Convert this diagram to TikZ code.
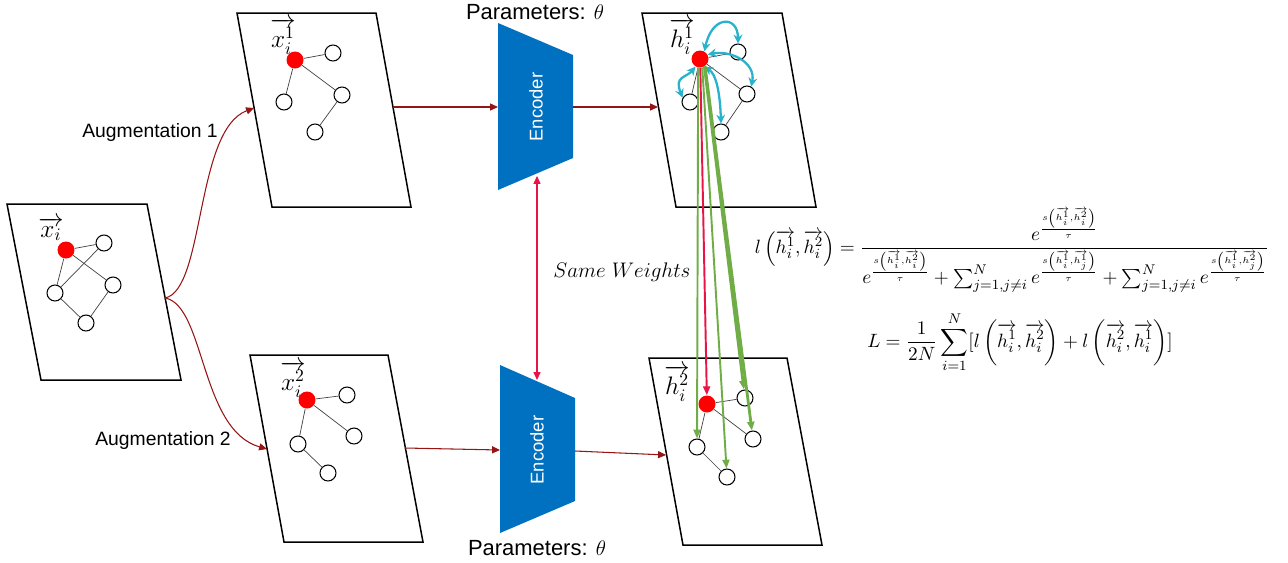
\documentclass[tikz,border=0pt]{standalone}
\usepackage{fontspec}
\setmainfont{Liberation Sans}
\usepackage{amsmath}
\usetikzlibrary{arrows.meta}

\definecolor{flowred}{RGB}{150,20,20}
\definecolor{weightred}{RGB}{232,20,70}
\definecolor{encblue}{RGB}{0,112,192}
\definecolor{attcyan}{RGB}{40,178,204}
\definecolor{posgreen}{RGB}{112,173,71}

\tikzset{
  frame/.style={draw, line width=0.85pt},
  hub/.style={circle, fill=red, minimum size=0.34cm, inner sep=0pt},
  vtx/.style={circle, draw, line width=0.6pt, fill=white, minimum size=0.32cm, inner sep=0pt},
  link/.style={draw=black!75, line width=0.4pt},
  flow/.style={draw=flowred, line width=0.6pt, -{Triangle[length=4.5pt,width=4pt]}},
  att/.style={draw=attcyan, line width=1.3pt, {Stealth[length=5pt,width=5pt]}-{Stealth[length=5pt,width=5pt]}},
  pairarrow/.style={draw=posgreen, line width=1.1pt, -{Triangle[length=5pt,width=4pt]}},
  vlabel/.style={font=\fontsize{14}{16}\selectfont},
  caption/.style={font=\fontsize{11}{13}\selectfont},
  param/.style={font=\fontsize{12.5}{15}\selectfont},
  formula/.style={font=\fontsize{11}{13}\selectfont, inner sep=1pt}
}

\begin{document}
\begin{tikzpicture}[x=0.02cm,y=-0.02cm]
\useasboundingbox (0,0) rectangle (1288,562);

% Input graph
\draw[frame]
(7,204)
--
(147,204)
--
(181,380)
--
(41,380)
--
cycle;
\coordinate (src-out) at (165,298);

\node[hub] (s-c) at (66,250) {};
\node[vtx] (s-n1) at (104,243) {};
\node[vtx] (s-n2) at (113,285) {};
\node[vtx] (s-n3) at (55,293) {};
\node[vtx] (s-n4) at (86,323) {};
\draw[link] (s-c) -- (s-n1);
\draw[link] (s-c) -- (s-n2);
\draw[link] (s-c) -- (s-n3);
\draw[link] (s-n3) -- (s-n1);
\draw[link] (s-n3) -- (s-n4);
\draw[link] (s-n4) -- (s-n2);
\node[vlabel] (s-lbl) at (51,229) {$\overrightarrow{x_i}$};

% Augmentation 1
\draw[frame]
(237,13)
--
(376,13)
--
(411,207)
--
(272,207)
--
cycle;
\coordinate (a-in) at (254,108);
\coordinate (a-out) at (393,107);

\begin{scope}[shift={(295,60)}]
\node[hub] (a-c) at (0,0) {};
\node[vtx] (a-n1) at (38,-7) {};
\node[vtx] (a-n2) at (47,35) {};
\node[vtx] (a-n3) at (-11,42) {};
\node[vtx] (a-n4) at (20,72) {};
\draw[link] (a-c) -- (a-n1);
\draw[link] (a-c) -- (a-n2);
\draw[link] (a-c) -- (a-n3);
\draw[link] (a-n2) -- (a-n4);
\node[vlabel] (a-lbl) at (-12,-24) {$\overrightarrow{x_i^1}$};
\end{scope}

% Augmentation 2
\draw[frame]
(250,355)
--
(388,355)
--
(423,542)
--
(284,542)
--
cycle;
\coordinate (b-in) at (267,449);
\coordinate (b-out) at (405,448);

\begin{scope}[shift={(307,400)}]
\node[hub] (b-c) at (0,0) {};
\node[vtx] (b-n1) at (40,-5) {};
\node[vtx] (b-n2) at (47,36) {};
\node[vtx] (b-n3) at (-9,44) {};
\node[vtx] (b-n4) at (21,73) {};
\draw[link] (b-c) -- (b-n1);
\draw[link] (b-c) -- (b-n2);
\draw[link] (b-c) -- (b-n3);
\draw[link] (b-n3) -- (b-n4);
\node[vlabel] (b-lbl) at (-14,-21) {$\overrightarrow{x_i^2}$};
\end{scope}

% Encoders
\fill[encblue]
(498,23)
--
(573,55)
--
(573,158)
--
(498,190)
--
cycle;
\node[rotate=90, white, font=\fontsize{10.5}{12}\selectfont] (enc1) at (536,107) {Encoder};
\node[param] (par1) at (535,12) {Parameters: $\theta$};
\coordinate (enc1-in) at (498,107);
\coordinate (enc1-out) at (573,107);
\coordinate (enc1-low) at (537,176);

\fill[encblue]
(500,365)
--
(575,398)
--
(575,501)
--
(500,533)
--
cycle;
\node[rotate=90, white, font=\fontsize{10.5}{12}\selectfont] (enc2) at (537,450) {Encoder};
\node[param] (par2) at (537,548) {Parameters: $\theta$};
\coordinate (enc2-in) at (500,450);
\coordinate (enc2-out) at (575,451);
\coordinate (enc2-up) at (537,380);

% Embeddings 1
\draw[frame]
(642,13)
--
(782,13)
--
(816,207)
--
(676,207)
--
cycle;
\coordinate (c-in) at (658,107);

\begin{scope}[shift={(700,59)}]
\node[hub] (c-c) at (0,0) {};
\node[vtx] (c-n1) at (38,-7) {};
\node[vtx] (c-n2) at (47,35) {};
\node[vtx] (c-n3) at (-10,43) {};
\node[vtx] (c-n4) at (21,73) {};
\draw[link] (c-c) -- (c-n1);
\draw[link] (c-c) -- (c-n2);
\draw[link] (c-c) -- (c-n3);
\draw[link] (c-n2) -- (c-n4);
\node[vlabel] (c-lbl) at (-18,-23) {$\overrightarrow{h_i^1}$};
\end{scope}

% Embeddings 2
\draw[frame]
(649,358)
--
(787,358)
--
(822,545)
--
(683,545)
--
cycle;
\coordinate (d-in) at (666,455);

\begin{scope}[shift={(707,404)}]
\node[hub] (d-c) at (0,0) {};
\node[vtx] (d-n1) at (38,-6) {};
\node[vtx] (d-n2) at (46,35) {};
\node[vtx] (d-n3) at (-10,43) {};
\node[vtx] (d-n4) at (20,73) {};
\draw[link] (d-c) -- (d-n1);
\draw[link] (d-c) -- (d-n2);
\draw[link] (d-c) -- (d-n3);
\draw[link] (d-n3) -- (d-n4);
\node[vlabel] (d-lbl) at (-30,-21) {$\overrightarrow{h_i^2}$};
\end{scope}

% Flow
\draw[flow] (src-out) .. controls (205,290) and (195,130) .. (a-in);
\draw[flow] (src-out) .. controls (205,305) and (200,430) .. (b-in);
\draw[flow] (a-out) -- (enc1-in);
\draw[flow] (b-out) -- (enc2-in);
\draw[flow] (enc1-out) -- (c-in);
\draw[flow] (enc2-out) -- (d-in);

\node[caption] (aug1) at (150,132) {Augmentation 1};
\node[caption] (aug2) at (163,440) {Augmentation 2};

% Same weights
\draw[draw=weightred, line width=0.6pt, {Triangle[length=4.5pt,width=4pt]}-{Triangle[length=4.5pt,width=4pt]}] (enc1-low) -- (enc2-up);
\node[font=\fontsize{12.5}{15}\selectfont] (same) at (622,272) {$Same\ Weights$};

% Neighbours of the anchor
\draw[att] (c-c.60) .. controls (712,15) and (738,15) .. (c-n1.north);
\draw[att] (c-c.30) .. controls (730,50) and (756,62) .. (c-n2.60);
\draw[att] (c-c.240) .. controls (686,78) and (674,76) .. (c-n3.150);
\draw[att] (c-c.300) .. controls (716,74) and (720,92) .. (c-n4.north);

% Positives and negatives
\draw[pairarrow] (c-c.258) -- (d-n3);
\draw[draw=weightred, line width=1.1pt, -{Triangle[length=5pt,width=4pt]}] (c-c.272) -- (d-c);
\draw[pairarrow] (c-c.285) -- (d-n4);
\draw[pairarrow, line width=1.6pt] (c-c.300) -- (d-n1);
\draw[pairarrow, line width=1.6pt] (c-c.305) -- (d-n2);

% Loss
\node[formula] (loss) at (1012,250)
{$l\left(\overrightarrow{h_i^1},\overrightarrow{h_i^2}\right)=\dfrac{e^{\frac{s\left(\overrightarrow{h_i^1},\overrightarrow{h_i^2}\right)}{\tau}}}{e^{\frac{s\left(\overrightarrow{h_i^1},\overrightarrow{h_i^2}\right)}{\tau}}+\sum\nolimits_{j=1,j\neq i}^{N}e^{\frac{s\left(\overrightarrow{h_i^1},\overrightarrow{h_j^1}\right)}{\tau}}+\sum\nolimits_{j=1,j\neq i}^{N}e^{\frac{s\left(\overrightarrow{h_i^1},\overrightarrow{h_j^2}\right)}{\tau}}}$};
\node[formula] (total) at (1020,342)
{$\displaystyle L=\frac{1}{2N}\sum_{i=1}^{N}[l\left(\overrightarrow{h_i^1},\overrightarrow{h_i^2}\right)+l\left(\overrightarrow{h_i^2},\overrightarrow{h_i^1}\right)]$};

\end{tikzpicture}
\end{document}
